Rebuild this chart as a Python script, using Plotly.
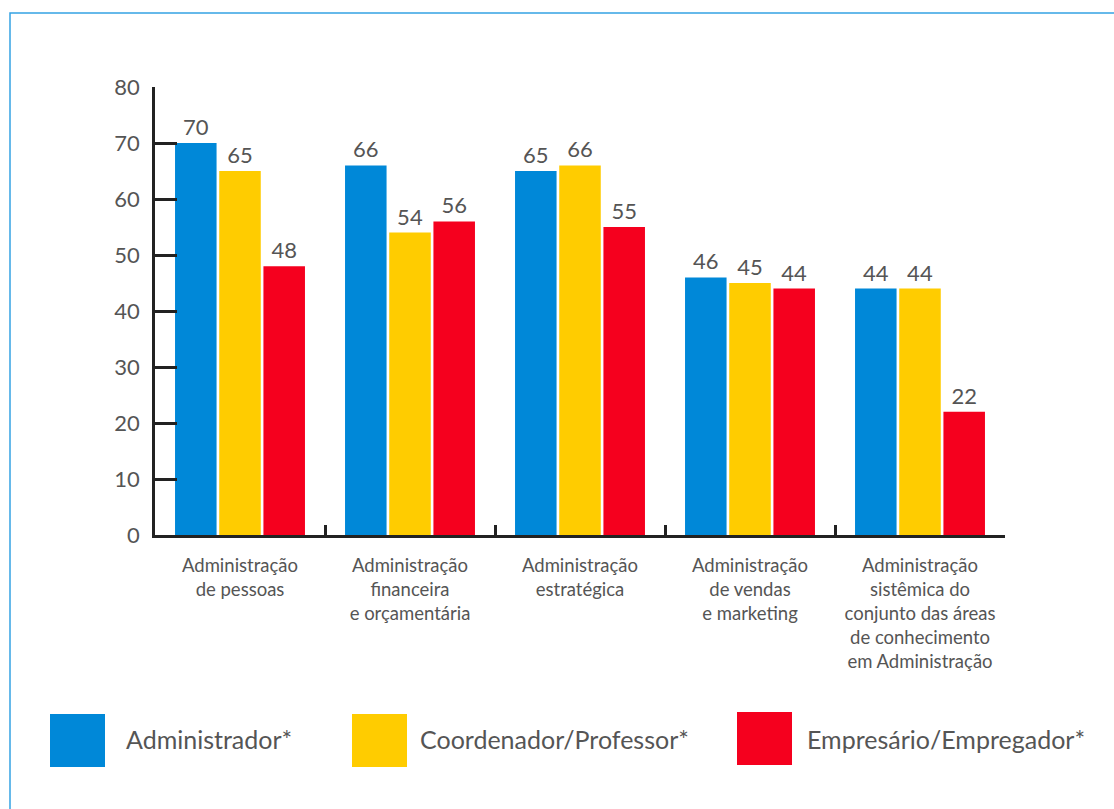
import plotly.graph_objects as go

# Areas of knowledge (multi-line labels) and percentages per respondent group
categories = [
    "Administração<br>de pessoas",
    "Administração<br>financeira<br>e orçamentária",
    "Administração<br>estratégica",
    "Administração<br>de vendas<br>e marketing",
    "Administração<br>sistêmica do<br>conjunto das áreas<br>de conhecimento<br>em Administração",
]
series_names = ["Administrador*", "Coordenador/Professor*", "Empresário/Empregador*"]
administrador = [70, 66, 65, 46, 44]
coordenador = [65, 54, 66, 45, 44]
empresario = [48, 56, 55, 44, 22]
colors = ["#0088D8", "#FFCC00", "#F5001E"]

y_ticks = [0, 10, 20, 30, 40, 50, 60, 70, 80]

W, H = 1114, 809
L, R, T, B = 155, 109, 87, 274
PW, PH = W - L - R, H - T - B

def px_x(p):
    return (p - L) / PW

def px_y(p):
    return (H - B - p) / PH

TEXT = "#555555"
FONT = "Lato, 'Open Sans', sans-serif"

fig = go.Figure()
for name, vals, col in zip(series_names, [administrador, coordenador, empresario], colors):
    fig.add_trace(go.Bar(
        x=categories, y=vals, name=name,
        marker=dict(color=col, line=dict(width=0)),
        text=[str(v) for v in vals], textposition="outside",
        textfont=dict(size=22, color=TEXT, family=FONT),
        cliponaxis=False, showlegend=False,
    ))

shapes = [
    # outer frame
    dict(type="rect", xref="paper", yref="paper",
         x0=px_x(10), x1=px_x(1125), y0=px_y(13), y1=px_y(820),
         line=dict(color="#35A2E3", width=1.5), fillcolor="rgba(0,0,0,0)", layer="below"),
]
annotations = []
legend_items = [(50, 714, 124), (352, 714, 418), (737, 712, 805)]
for (sx, sy, tx), name, col in zip(legend_items, series_names, colors):
    shapes.append(dict(type="rect", xref="paper", yref="paper",
                       x0=px_x(sx), x1=px_x(sx + 55), y0=px_y(sy + 53), y1=px_y(sy),
                       fillcolor=col, line=dict(width=0)))
    annotations.append(dict(xref="paper", yref="paper", x=px_x(tx), y=px_y(739),
                            text=name, showarrow=False, xanchor="left", yanchor="middle",
                            font=dict(size=25, color=TEXT, family=FONT)))

fig.update_layout(
    width=W, height=H,
    margin=dict(l=L, r=R, t=T, b=B, autoexpand=False),
    paper_bgcolor="white", plot_bgcolor="white",
    barmode="group", bargap=0.22, bargroupgap=0.06,
    font=dict(family=FONT, color=TEXT),
    shapes=shapes, annotations=annotations,
    showlegend=False,
)
fig.update_xaxes(
    type="category", showline=True, linecolor="#222222", linewidth=2.5,
    ticks="inside", tickson="boundaries", ticklen=10, tickwidth=2.5, tickcolor="#222222",
    tickfont=dict(size=18.5, color=TEXT, family=FONT), showgrid=False, mirror=False,
    ticklabelstandoff=12,
)
fig.update_yaxes(
    range=[0, 80], tickvals=y_ticks, showline=True, linecolor="#222222", linewidth=2.5,
    ticks="inside", ticklen=22, tickwidth=2.5, tickcolor="#222222",
    tickfont=dict(size=22, color=TEXT, family=FONT), showgrid=False, zeroline=False,
    ticklabelstandoff=8,
)

fig.write_html("out.html")
